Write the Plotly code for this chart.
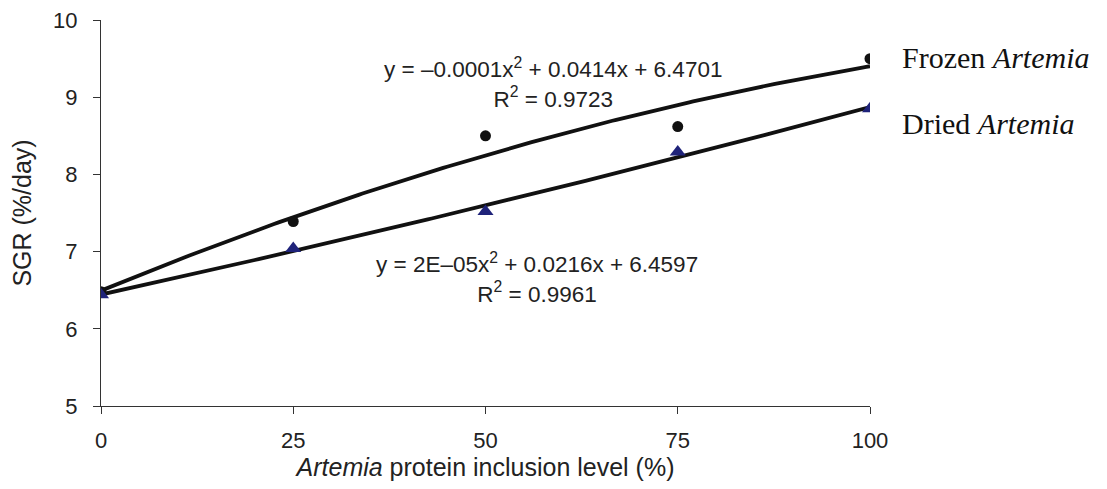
import numpy as np
import plotly.graph_objects as go

x_levels = [0, 25, 50, 75, 100]
frozen_sgr = [6.48, 7.39, 8.50, 8.62, 9.50]
dried_sgr = [6.44, 7.04, 7.52, 8.29, 8.85]
x_ticks = [0, 25, 50, 75, 100]
y_ticks = [5, 6, 7, 8, 9, 10]

xs = np.linspace(0, 100, 201)
fz = np.polyval(np.polyfit(x_levels, frozen_sgr, 2), xs)
dr = np.polyval(np.polyfit(x_levels, dried_sgr, 2), xs)

fig = go.Figure()
fig.add_trace(go.Scatter(x=xs, y=fz, mode="lines", line=dict(color="#111111", width=3.8), showlegend=False))
fig.add_trace(go.Scatter(x=xs, y=dr, mode="lines", line=dict(color="#111111", width=3.8), showlegend=False))
fig.add_trace(go.Scatter(x=x_levels, y=frozen_sgr, mode="markers",
                         marker=dict(symbol="circle", size=11, color="#111111"), showlegend=False))
fig.add_trace(go.Scatter(x=x_levels, y=dried_sgr, mode="markers",
                         marker=dict(symbol="triangle-up", size=14, color="#1f237a"), showlegend=False))

font_sans = "Liberation Sans, Arial, sans-serif"
font_serif = "Liberation Serif, Times New Roman, serif"

fig.add_annotation(x=58.8, y=9.18, xref="x", yref="y",
                   text="y = \u20130.0001x<sup>2</sup> + 0.0414x + 6.4701<br>R<sup>2</sup> = 0.9723",
                   showarrow=False, font=dict(family=font_sans, size=22.5, color="#222"), align="center")
fig.add_annotation(x=56.7, y=6.66, xref="x", yref="y",
                   text="y = 2E\u201305x<sup>2</sup> + 0.0216x + 6.4597<br>R<sup>2</sup> = 0.9961",
                   showarrow=False, font=dict(family=font_sans, size=22.5, color="#222"), align="center")
fig.add_annotation(x=1.039, y=9.52, xref="paper", yref="y", xanchor="left",
                   text="Frozen <i>Artemia</i>", showarrow=False,
                   font=dict(family=font_serif, size=30, color="#111"))
fig.add_annotation(x=1.039, y=8.66, xref="paper", yref="y", xanchor="left",
                   text="Dried <i>Artemia</i>", showarrow=False,
                   font=dict(family=font_serif, size=30, color="#111"))

axis_common = dict(showgrid=False, zeroline=False, showline=True, linecolor="#333", linewidth=1.3,
                   ticks="outside", ticklen=7, tickcolor="#333", tickwidth=1.3,
                   ticklabeloverflow="allow", automargin=False,
                   tickfont=dict(family=font_sans, size=22, color="#222"))
fig.update_xaxes(range=[0, 100], tickvals=x_ticks, ticklabelstandoff=7,
                 title=dict(text="<i>Artemia</i> protein inclusion level (%)",
                            font=dict(family=font_sans, size=25, color="#222"), standoff=6),
                 **axis_common)
fig.update_yaxes(range=[5, 10.0005], tickvals=y_ticks, ticklabelstandoff=11,
                 title=dict(text="SGR (%/day)", font=dict(family=font_sans, size=25, color="#222"), standoff=27),
                 **axis_common)
fig.update_layout(width=1099, height=481, margin=dict(l=93, r=237, t=12, b=83),
                  plot_bgcolor="white", paper_bgcolor="white")
fig.write_html("out.html")
